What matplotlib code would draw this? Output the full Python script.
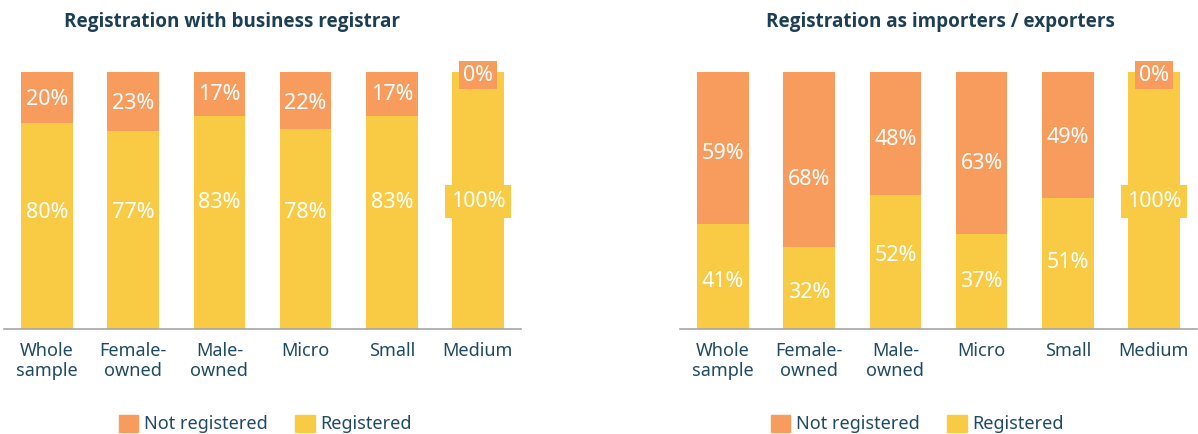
import matplotlib.pyplot as plt
from matplotlib.patches import Patch
from matplotlib import font_manager

plt.rcParams['font.family'] = ['Noto Sans', 'DejaVu Sans']

categories = ['Whole\nsample', 'Female-\nowned', 'Male-\nowned', 'Micro', 'Small', 'Medium']

# Registration with business registrar
biz_registered = [80, 77, 83, 78, 83, 100]
biz_not_registered = [20, 23, 17, 22, 17, 0]

# Registration as importers / exporters
imp_registered = [41, 32, 52, 37, 51, 100]
imp_not_registered = [59, 68, 48, 63, 49, 0]

titles = ['Registration with business registrar', 'Registration as importers / exporters']

# where the value labels sit (in % units), as placed in the original
biz_reg_label_y = [45.2, 45.2, 49.3, 45.2, 49.3, 49.5]
biz_not_label_y = [89.2, 87.9, 91.2, 87.9, 91.2, 98.8]
imp_reg_label_y = [18.6, 14.3, 28.6, 18.6, 26.0, 49.5]
imp_not_label_y = [68.2, 58.0, 73.6, 64.3, 74.4, 98.8]

ORANGE = '#F79C5C'
YELLOW = '#F9CB44'
DARK = '#1C3F55'
TEXT = '#1F4A63'

bold_family = 'Noto Sans'
names = {f.name for f in font_manager.fontManager.ttflist if f.weight in (700, 'bold')}
if 'Noto Sans' not in names and 'Open Sans' in names:
    bold_family = 'Open Sans'

fig = plt.figure(figsize=(11.98, 4.34), dpi=100)
W, H = 1198, 434

axes_px = [(4, 521), (680, 1197)]
title_x = [232, 940]
legend_x = [265, 917]
panels = [(biz_registered, biz_not_registered, biz_reg_label_y, biz_not_label_y),
          (imp_registered, imp_not_registered, imp_reg_label_y, imp_not_label_y)]

for k, (reg, notreg, reg_y, not_y) in enumerate(panels):
    x0, x1 = axes_px[k]
    ax = fig.add_axes([x0 / W, 1 - 329 / H, (x1 - x0) / W, 257 / H])
    xs = range(len(categories))
    ax.bar(xs, reg, width=0.6, color=YELLOW, zorder=2)
    ax.bar(xs, notreg, width=0.6, bottom=reg, color=ORANGE, zorder=2)

    for i in xs:
        kw = dict(ha='center', va='center', color='white', fontsize=15.5, zorder=4, clip_on=False)
        if reg[i] >= 100:
            kw['bbox'] = dict(boxstyle='square,pad=0.28', fc=YELLOW, ec='none')
        ax.text(i, reg_y[i], f'{reg[i]}%', **kw)
        kw = dict(ha='center', va='center', color='white', fontsize=15.5, zorder=4, clip_on=False)
        if notreg[i] == 0:
            kw['bbox'] = dict(boxstyle='square,pad=0.17', fc=ORANGE, ec='none')
        ax.text(i, not_y[i], f'{notreg[i]}%', **kw)

    ax.set_xlim(-0.5, 5.5)
    ax.set_ylim(0, 100)
    ax.set_xticks(list(xs))
    ax.set_xticklabels(categories, fontsize=13, color=TEXT, linespacing=1.15)
    ax.tick_params(axis='x', length=0, pad=9)
    ax.set_yticks([])
    for s in ['top', 'right', 'left']:
        ax.spines[s].set_visible(False)
    ax.spines['bottom'].set_color('#A6A6A6')
    ax.spines['bottom'].set_linewidth(1.2)

    fig.text(title_x[k] / W, 1 - 22 / H, titles[k], ha='center', va='center',
             fontsize=13.6, fontweight='bold', color=DARK, family=[bold_family, 'DejaVu Sans'])

    handles = [Patch(color=ORANGE, label='Not registered'), Patch(color=YELLOW, label='Registered')]
    fig.legend(handles=handles, loc='center', bbox_to_anchor=(legend_x[k] / W, 1 - 424 / H),
               ncol=2, frameon=False, fontsize=13, labelcolor=TEXT,
               handlelength=1.1, handleheight=1.1, handletextpad=0.3, columnspacing=1.5)

fig.savefig('out.png', dpi=100)
